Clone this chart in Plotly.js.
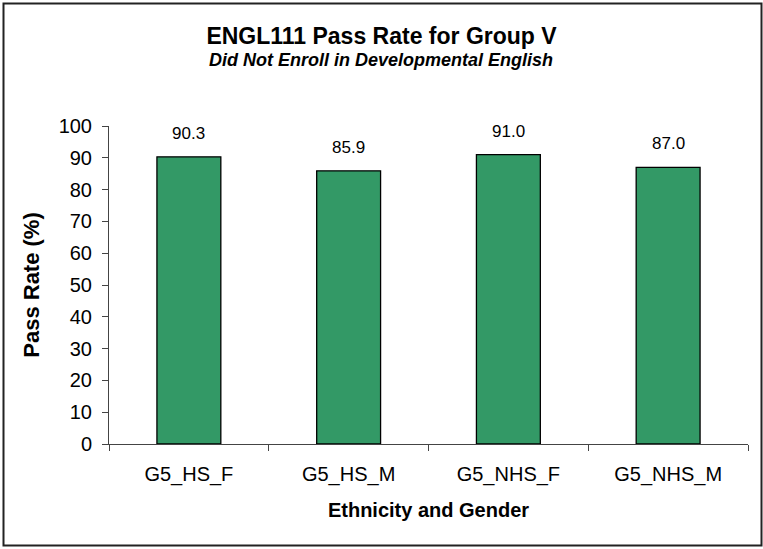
<!DOCTYPE html>
<html>
<head>
<meta charset="utf-8">
<script src="https://cdn.plot.ly/plotly-3.0.1.min.js"></script>
<style>
  html, body { margin: 0; padding: 0; background: #fff; }
  #chart { width: 763px; height: 549px; }
</style>
</head>
<body>
<div id="chart"></div>
<script>
// Pass rates by ethnicity/gender group
const categories = ["G5_HS_F", "G5_HS_M", "G5_NHS_F", "G5_NHS_M"];
const passRates = [90.3, 85.9, 91.0, 87.0];
const yTickValues = [0, 10, 20, 30, 40, 50, 60, 70, 80, 90, 100];

const FONT = "Liberation Sans, Arial, sans-serif";

// Plot-area geometry in pixels (used to place the outer frame in paper units)
const W = 763, H = 549;
const M = { l: 109, r: 15, t: 126, b: 105 };
const pw = W - M.l - M.r, ph = H - M.t - M.b;
const px = (x) => (x - M.l) / pw;
const py = (y) => (H - M.b - y) / ph;

const bars = {
  type: "bar",
  x: categories,
  y: passRates,
  marker: { color: "#339966", line: { color: "#000000", width: 1.3 } },
  hoverinfo: "x+y",
  showlegend: false
};

// Value labels above each bar
const valueLabels = categories.map((c, i) => ({
  x: c, y: passRates[i], xref: "x", yref: "y",
  text: passRates[i].toFixed(1),
  showarrow: false, yanchor: "bottom", yshift: 12,
  font: { family: FONT, size: 17, color: "#000" }
}));

const subtitle = {
  xref: "paper", yref: "paper",
  x: px(381), y: py(59.5), xanchor: "center", yanchor: "middle",
  text: "<b><i>Did Not Enroll in Developmental English</i></b>",
  showarrow: false,
  font: { family: FONT, size: 18, color: "#000" }
};

const layout = {
  width: W, height: H,
  margin: M,
  paper_bgcolor: "#ffffff",
  plot_bgcolor: "#ffffff",
  font: { family: FONT, color: "#000" },
  title: {
    text: "<b>ENGL111 Pass Rate for Group V</b>",
    font: { family: FONT, size: 23, color: "#000" },
    x: 0.5, xref: "container", xanchor: "center",
    y: 1 - 35.5 / H, yref: "container", yanchor: "middle"
  },
  xaxis: {
    type: "category",
    range: [-0.5, categories.length - 0.5],
    showline: true, linecolor: "#444", linewidth: 1,
    ticks: "outside", tickson: "boundaries", ticklen: 6, tickcolor: "#444",
    tickfont: { family: FONT, size: 20, color: "#000" },
    ticklabelstandoff: 12,
    showgrid: false, zeroline: false,
    title: {
      text: "<b>Ethnicity and Gender</b>",
      font: { family: FONT, size: 20, color: "#000" },
      standoff: 17
    }
  },
  yaxis: {
    range: [0, 100],
    tickvals: yTickValues,
    showline: true, linecolor: "#444", linewidth: 1,
    ticks: "outside", ticklen: 6, tickcolor: "#444",
    tickfont: { family: FONT, size: 20, color: "#000" },
    ticklabelstandoff: 6,
    showgrid: false, zeroline: false,
    title: {
      text: "<b>Pass Rate (%)</b>",
      font: { family: FONT, size: 22, color: "#000" },
      standoff: 12
    }
  },
  bargap: 0.6,
  annotations: valueLabels.concat([subtitle]),
  shapes: [{
    type: "rect", xref: "paper", yref: "paper",
    x0: px(3.5), x1: px(761.5), y0: py(545.5), y1: py(3.5),
    line: { color: "#222", width: 2 }, fillcolor: "rgba(0,0,0,0)"
  }]
};

Plotly.newPlot("chart", [bars], layout, { displayModeBar: false, staticPlot: true });
</script>
</body>
</html>
